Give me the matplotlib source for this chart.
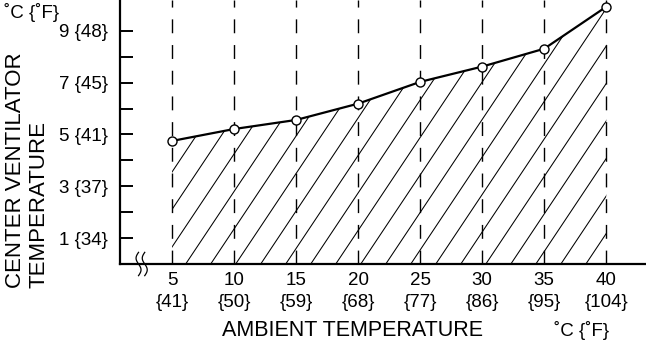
import numpy as np
import matplotlib
matplotlib.use("Agg")
import matplotlib.pyplot as plt
from matplotlib.patches import Polygon

plt.rcParams['font.family'] = ['Liberation Sans', 'DejaVu Sans']

# Data
ambient_c = [5, 10, 15, 20, 25, 30, 35, 40]
ambient_f = [41, 50, 59, 68, 77, 86, 95, 104]
vent_c = [4.75, 5.21, 5.56, 6.19, 7.03, 7.62, 8.31, 9.93]
ytick_c = [1, 3, 5, 7, 9]
ytick_f = [34, 37, 41, 45, 48]

W, H = 646, 345
fig = plt.figure(figsize=(W / 100, H / 100), dpi=100)
ax = fig.add_axes([120 / W, (H - 264) / H, 1 - 120 / W, 264 / H])
ax.set_xlim(0.806, 43.2)
ax.set_ylim(0, 10.19)

for s in ['top', 'right']:
    ax.spines[s].set_visible(False)
for s in ['left', 'bottom']:
    ax.spines[s].set_linewidth(1.6)

# y ticks (all integers, labels on odd values)
fmap = dict(zip(ytick_c, ytick_f))
ax.set_yticks(range(1, 10))
ax.set_yticklabels([f"{c} {{{fmap[c]}}}" if c in fmap else "" for c in range(1, 10)])
ax.tick_params(axis='y', direction='in', length=9.5, width=1.4, pad=8.5, labelsize=13.5)

# x ticks
ax.set_xticks(ambient_c)
ax.set_xticklabels([f"{c}\n{{{f}}}" for c, f in zip(ambient_c, ambient_f)], linespacing=1.35)
ax.tick_params(axis='x', length=0, pad=6, labelsize=13.5)

# dashed verticals
for xc in ambient_c:
    ax.axvline(xc, color='black', lw=1.0, dashes=(10, 8.5), zorder=2)

# hatch region
poly_xy = [(ambient_c[0], 0)] + list(zip(ambient_c, vent_c)) + [(ambient_c[-1], 0)]
poly = Polygon(poly_xy, closed=True, facecolor='white', edgecolor='none', zorder=1)
ax.add_patch(poly)
slope = 0.718
spacing = 2.016
c0 = 6.1
xs = np.array([-10.0, 60.0])
for k in range(-30, 30):
    c = c0 + k * spacing
    ln, = ax.plot(xs, slope * (xs - c), color='black', lw=0.75, zorder=1.5)
    ln.set_clip_path(poly)

# main line
ax.plot(ambient_c, vent_c, color='black', lw=1.6, zorder=3,
        marker='o', markersize=6.5, markerfacecolor='white', markeredgecolor='black',
        markeredgewidth=1.0)

# axis break marks
t = np.linspace(-1, 1, 40)
for x0 in (2.3, 2.8):
    ax.plot(x0 + 0.2 * np.sin(np.pi * t), -0.45 * t, color='black', lw=0.9,
            clip_on=False, zorder=4)

# labels
fig.text(27 / W, (H - 288) / H, "CENTER VENTILATOR\nTEMPERATURE", rotation=90,
         rotation_mode='anchor', ha='left', va='center', fontsize=16, linespacing=1.15)
fig.text(4 / W, (H - 13) / H, "˚C {˚F}", ha='left', va='center', fontsize=13.5)
fig.text(353 / W, (H - 331) / H, "AMBIENT TEMPERATURE", ha='center', va='center', fontsize=15.5)
fig.text(582 / W, (H - 330) / H, "˚C {˚F}", ha='center', va='center', fontsize=13.5)

fig.savefig("out.png", dpi=100)
